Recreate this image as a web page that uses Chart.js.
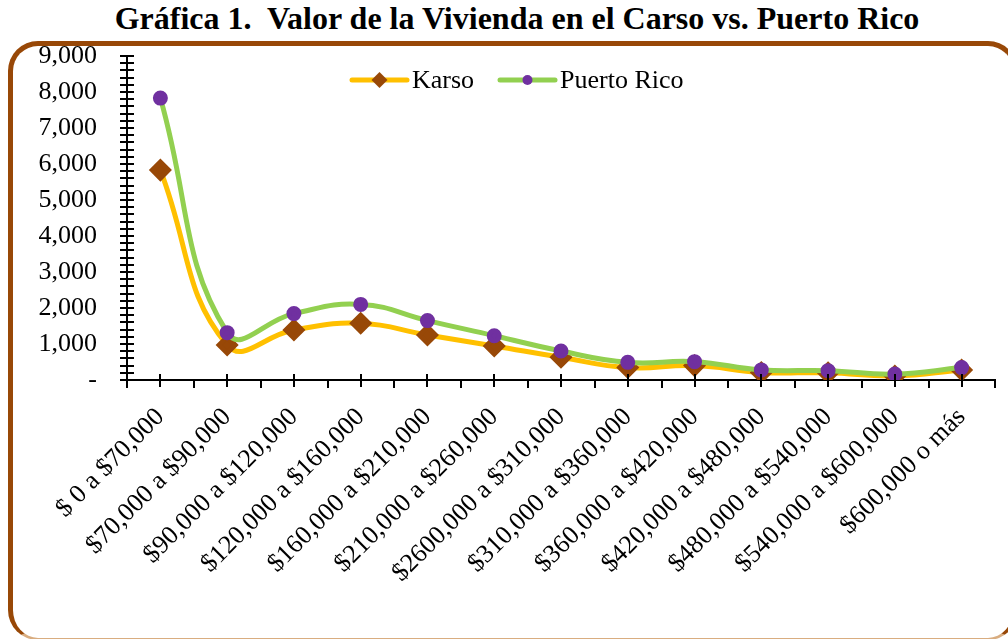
<!DOCTYPE html>
<html>
<head>
<meta charset="utf-8">
<script src="https://cdn.jsdelivr.net/npm/chart.js@4.4.1/dist/chart.umd.min.js"></script>
<style>
  body { margin: 0; background: #fff; }
  #wrap { position: relative; width: 1008px; height: 639px; overflow: hidden; }
  #title {
    position: absolute; left: 0; top: 0px; width: 1034px; text-align: center;
    font: bold 32px "Liberation Serif", "Times New Roman", serif; color: #000;
  }
  #frame {
    position: absolute; left: 8px; top: 41px; width: 1000px; height: 592px;
    border: 5px solid #984807; border-bottom: 2px solid #d9ad80; border-radius: 30px;
  }
  #box { position: absolute; left: 0; top: 0; width: 1008px; height: 639px; }
</style>
</head>
<body>
<div id="wrap">
  <div id="title">Gráfica 1.&nbsp; Valor de la Vivienda en el Carso vs. Puerto Rico</div>
  <div id="frame"></div>
  <div id="box"><canvas id="viviendaChart"></canvas></div>
</div>
<script>
const categories = [
    '$ 0 a $70,000', '$70,000 a $90,000', '$90,000 a $120,000', '$120,000 a $160,000',
    '$160,000 a $210,000', '$210,000 a $260,000', '$2600,000 a $310,000', '$310,000 a $360,000',
    '$360,000 a $420,000', '$420,000 a $480,000', '$480,000 a $540,000', '$540,000 a $600,000',
    '$600,000 o más'
];
const karso = [5830, 970, 1390, 1575, 1250, 945, 630, 345, 400, 210, 200, 110, 280];
const puertoRico = [7830, 1315, 1845, 2100, 1650, 1230, 805, 490, 510, 280, 260, 165, 345];
const yTicks = [0, 1000, 2000, 3000, 4000, 5000, 6000, 7000, 8000, 9000];

const serif = '"Liberation Serif", "Times New Roman", serif';

// tick marks like the Excel chart: minor ticks on y, ticks at points and between on x
const tickMarks = {
    id: 'tickMarks',
    afterDraw(chart) {
        const ctx = chart.ctx;
        const x = chart.scales.x;
        const y = chart.scales.y;
        const area = chart.chartArea;
        ctx.save();
        ctx.strokeStyle = '#000';
        ctx.lineWidth = 2;
        ctx.beginPath();
        for (let v = 0; v <= 9000; v += 200) {
            const py = Math.round(y.getPixelForValue(v));
            ctx.moveTo(area.left - 7, py);
            ctx.lineTo(area.left + 7, py);
        }
        const half = (x.getPixelForValue(1) - x.getPixelForValue(0)) / 2;
        categories.forEach(function (c, i) {
            const px = Math.round(x.getPixelForValue(i));
            ctx.moveTo(px, area.bottom - 6);
            ctx.lineTo(px, area.bottom + 7);
            const bx = Math.round(px - half);
            ctx.moveTo(bx, area.bottom);
            ctx.lineTo(bx, area.bottom + 8);
            if (i === categories.length - 1) {
                ctx.moveTo(Math.round(px + half), area.bottom);
                ctx.lineTo(Math.round(px + half), area.bottom + 8);
            }
        });
        ctx.stroke();
        ctx.restore();
    }
};

// legend drawn inside the plot area, line + marker like Excel
const insideLegend = {
    id: 'insideLegend',
    afterDraw(chart) {
        const ctx = chart.ctx;
        const items = [
            { label: 'Karso', x: 352, line: '#FFC000', marker: '#984807', diamond: true },
            { label: 'Puerto Rico', x: 500, line: '#92D050', marker: '#7030A0', diamond: false }
        ];
        const yy = 80;
        ctx.save();
        items.forEach(function (it) {
            ctx.strokeStyle = it.line;
            ctx.lineWidth = 5;
            ctx.lineCap = 'round';
            ctx.beginPath();
            ctx.moveTo(it.x, yy);
            ctx.lineTo(it.x + 55, yy);
            ctx.stroke();
            ctx.fillStyle = it.marker;
            ctx.beginPath();
            const cx = it.x + 27.5;
            if (it.diamond) {
                ctx.moveTo(cx, yy - 8); ctx.lineTo(cx + 8, yy); ctx.lineTo(cx, yy + 8); ctx.lineTo(cx - 8, yy);
                ctx.closePath();
            } else {
                ctx.arc(cx, yy, 5, 0, Math.PI * 2);
            }
            ctx.fill();
            ctx.fillStyle = '#000';
            ctx.font = '26px ' + serif;
            ctx.textBaseline = 'middle';
            ctx.fillText(it.label, it.x + 60, yy + 1);
        });
        ctx.restore();
    }
};

new Chart(document.querySelector('#viviendaChart'), {
    type: 'line',
    data: {
        labels: categories,
        datasets: [{
            label: 'Karso',
            data: karso,
            borderColor: '#FFC000',
            borderWidth: 5,
            tension: 0.45,
            pointStyle: 'rectRot',
            pointRadius: 8,
            pointBackgroundColor: '#984807',
            pointBorderColor: '#984807',
            order: 1
        }, {
            label: 'Puerto Rico',
            data: puertoRico,
            borderColor: '#92D050',
            borderWidth: 5,
            tension: 0.45,
            pointStyle: 'circle',
            pointRadius: 5,
            pointBackgroundColor: '#7030A0',
            pointBorderColor: '#7030A0',
            order: 0
        }]
    },
    options: {
        responsive: true,
        maintainAspectRatio: false,
        devicePixelRatio: 1,
        animation: false,
        layout: { padding: { top: 56, right: 13, left: 0, bottom: 0 } },
        plugins: {
            legend: { display: false },
            title: { display: false },
            tooltip: { enabled: false }
        },
        scales: {
            x: {
                offset: true,
                grid: { display: false },
                border: { display: true, color: '#000', width: 2 },
                ticks: {
                    autoSkip: false,
                    maxRotation: 45,
                    minRotation: 45,
                    padding: 14,
                    color: '#000',
                    font: { family: serif, size: 26 }
                },
                afterFit(scale) { scale.height = 259; }
            },
            y: {
                min: 0,
                max: 9000,
                grid: { display: false },
                border: { display: true, color: '#000', width: 2 },
                afterBuildTicks(scale) { scale.ticks = yTicks.map(function (v) { return { value: v }; }); },
                ticks: {
                    padding: 22,
                    color: '#000',
                    font: { family: serif, size: 26 },
                    callback: function (v) { return v === 0 ? '-' : v.toLocaleString('en-US'); }
                },
                afterFit(scale) { scale.width = 127; }
            }
        }
    },
    plugins: [tickMarks, insideLegend]
});
</script>
</body>
</html>
